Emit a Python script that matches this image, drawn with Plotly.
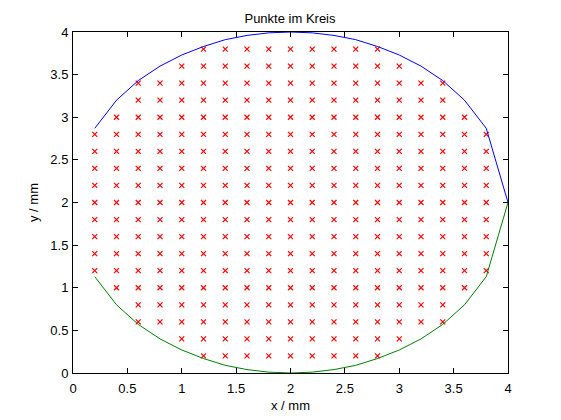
import numpy as np
import plotly.graph_objects as go

# circle outline (upper / lower halves)
curve_x = [0.2, 0.4, 0.6, 0.8, 1.0, 1.2, 1.4, 1.6, 1.8, 2.0,
           2.2, 2.4, 2.6, 2.8, 3.0, 3.2, 3.4, 3.6, 3.8, 4.0]
upper_y = [2.87, 3.20, 3.43, 3.60, 3.73, 3.83, 3.91, 3.96, 3.99, 4.00,
           3.99, 3.96, 3.91, 3.83, 3.73, 3.60, 3.43, 3.20, 2.87, 2.00]
lower_y = [1.13, 0.80, 0.57, 0.40, 0.27, 0.17, 0.09, 0.04, 0.01, 0.00,
           0.01, 0.04, 0.09, 0.17, 0.27, 0.40, 0.57, 0.80, 1.13, 2.00]

# grid points inside the circle: one row per y value, x from start to end (step 0.2)
row_y =     [0.2, 0.4, 0.6, 0.8, 1.0, 1.2, 1.4, 1.6, 1.8, 2.0,
             2.2, 2.4, 2.6, 2.8, 3.0, 3.2, 3.4, 3.6, 3.8]
row_start = [1.2, 1.0, 0.6, 0.6, 0.4, 0.2, 0.2, 0.2, 0.2, 0.2,
             0.2, 0.2, 0.2, 0.2, 0.4, 0.6, 0.6, 1.0, 1.2]
row_end =   [2.8, 3.0, 3.4, 3.4, 3.6, 3.8, 3.8, 3.8, 3.8, 3.8,
             3.8, 3.8, 3.8, 3.8, 3.6, 3.4, 3.4, 3.0, 2.8]
grid_step = 0.2

px, py = [], []
for y, a, b in zip(row_y, row_start, row_end):
    n = int(round((b - a) / grid_step)) + 1
    for i in range(n):
        px.append(round(a + i * grid_step, 2))
        py.append(y)

tick_vals = [0, 0.5, 1, 1.5, 2, 2.5, 3, 3.5, 4]
tick_text = ["0", "0.5", "1", "1.5", "2", "2.5", "3", "3.5", "4"]

FONT = "Liberation Sans, Arial, sans-serif"

# page body has an 8px margin; figure is sized/offset to compensate
W, H = 553, 412

fig = go.Figure()
fig.add_trace(go.Scatter(x=px, y=py, mode="markers",
                         marker=dict(symbol="x-thin", size=5, color="#ff0000",
                                     line=dict(color="#ff0000", width=1.2)),
                         showlegend=False, cliponaxis=False))
fig.add_trace(go.Scatter(x=curve_x, y=upper_y, mode="lines",
                         line=dict(color="#0000ff", width=1), showlegend=False))
fig.add_trace(go.Scatter(x=curve_x, y=lower_y, mode="lines",
                         line=dict(color="#008000", width=1), showlegend=False))

axis_common = dict(range=[0, 4], tickvals=tick_vals, ticktext=tick_text,
                   ticks="inside", ticklen=5, tickcolor="black", tickwidth=1,
                   showline=True, linecolor="black", linewidth=1, mirror="ticks",
                   showgrid=False, zeroline=False, automargin=False,
                   tickfont=dict(family=FONT, size=13, color="black"))

fig.update_layout(
    width=W, height=H,
    margin=dict(l=65, r=53, t=24, b=47, autoexpand=False),
    paper_bgcolor="white", plot_bgcolor="white",
    title=dict(text="Punkte im Kreis", x=(290 - 8) / W, xanchor="center",
               y=1 - 10 / H, yanchor="middle",
               font=dict(family=FONT, size=13, color="black")),
    xaxis=dict(title=dict(text="x / mm", standoff=6,
                          font=dict(family=FONT, size=13, color="black")),
               ticklabelstandoff=3,
               **axis_common),
    yaxis=dict(title=dict(text="y / mm", standoff=8,
                          font=dict(family=FONT, size=13, color="black")),
               ticklabelstandoff=1,
               **axis_common),
)

fig.write_html("out.html")
